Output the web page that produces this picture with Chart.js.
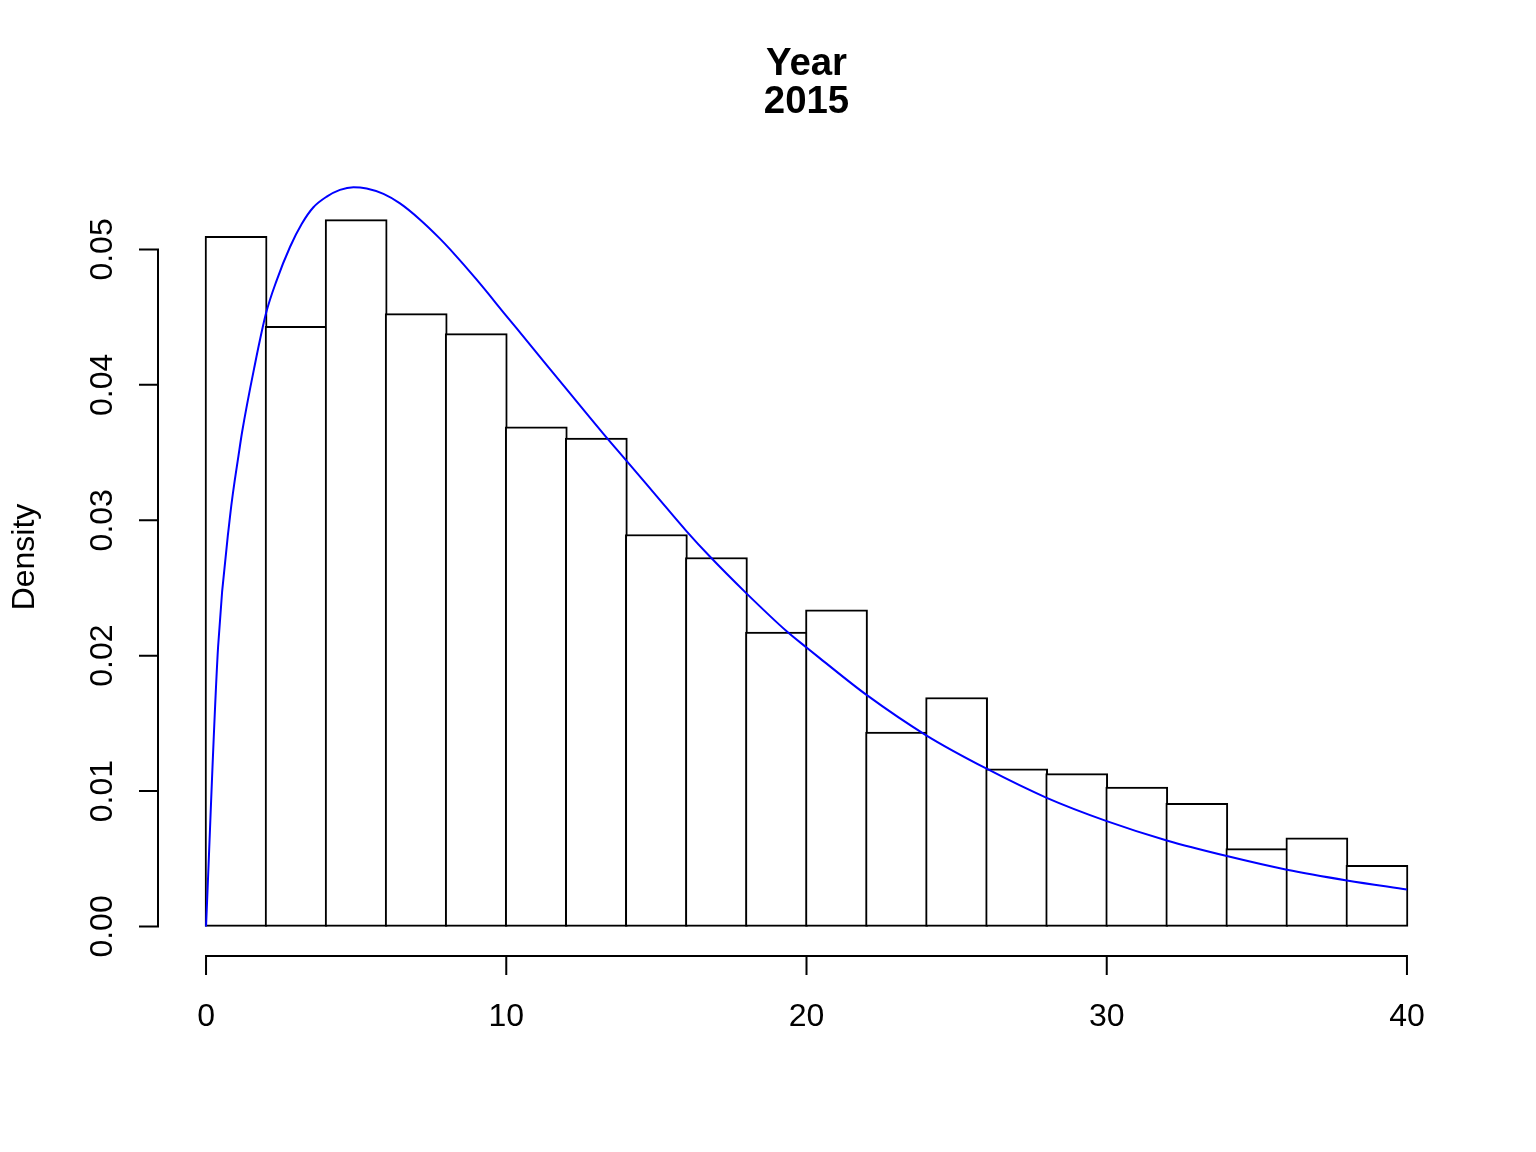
<!DOCTYPE html>
<html>
<head>
<meta charset="utf-8">
<script src="https://cdn.jsdelivr.net/npm/chart.js@4/dist/chart.umd.min.js"></script>
<style>
  html, body { margin: 0; padding: 0; background: #ffffff; }
  #wrap { width: 1536px; height: 1152px; position: relative; }
</style>
</head>
<body>
<div id="wrap"><canvas id="c" width="1536" height="1152"></canvas></div>
<script>
// ---- data ----
const titleLines = ["Year", "2015"];
const yLabel = "Density";
const binLeft = [0, 2, 4, 6, 8, 10, 12, 14, 16, 18, 20, 22, 24, 26, 28, 30, 32, 34, 36, 38];
const binWidth = 2;
const density = [0.05097, 0.04432, 0.05220, 0.04526, 0.04378, 0.03689, 0.03607, 0.02895, 0.02725, 0.02174,
                 0.02339, 0.01435, 0.01691, 0.01164, 0.01129, 0.01029, 0.00910, 0.00575, 0.00654, 0.00452];
const curveX = [0, 0.4, 0.8, 1.11, 1.2, 1.6, 2.0, 2.35, 2.8, 3.19, 3.57, 4.02, 4.46, 4.91, 5.35, 5.91, 6.46, 7.13,
                7.79, 8.13, 9.0, 10.0, 11.0, 12.0, 13.23, 14.0, 15.0, 16.0, 16.79, 18.0, 19.34, 20.0, 20.45,
                22, 24, 26, 28, 30, 32, 34, 36, 38, 40];
const curveY = [0, 0.0206, 0.0303, 0.0352, 0.0365, 0.0412, 0.0453, 0.0477, 0.0502, 0.0519, 0.0531, 0.0539, 0.0544,
                0.0546, 0.0545, 0.0541, 0.0534, 0.0522, 0.0508, 0.0500, 0.0478, 0.0451, 0.0424, 0.0397, 0.0364,
                0.0344, 0.0318, 0.0292, 0.0273, 0.0246, 0.0218, 0.0206, 0.0198,
                0.0171, 0.0141, 0.01165, 0.0095, 0.00778, 0.00635, 0.0052, 0.00419, 0.0034, 0.00273];
const xTicks = [0, 10, 20, 30, 40];
const xTickLabels = ["0", "10", "20", "30", "40"];
const yTicks = [0, 0.01, 0.02, 0.03, 0.04, 0.05];
const yTickLabels = ["0.00", "0.01", "0.02", "0.03", "0.04", "0.05"];
const xLimits = [0, 40];
const yLimits = [0, 0.05457];

// ---- build ----
const FONT = '"Liberation Sans", Arial, Helvetica, sans-serif';
const LINE_W = 2;
const xExt = (xLimits[1] - xLimits[0]) * 0.04;
const yExt = (yLimits[1] - yLimits[0]) * 0.04;

const barData = binLeft.map((l, i) => ({ x: l + binWidth / 2, y: density[i] }));
const lineData = curveX.map((x, i) => ({ x: x, y: curveY[i] }));

const axesPlugin = {
  id: 'rAxes',
  beforeDatasetsDraw(chart) {
    // widen bars so neighbouring outlines share one centred edge line (like R's rect())
    const xs = chart.scales.x;
    const px = Math.abs(xs.getPixelForValue(binWidth) - xs.getPixelForValue(0));
    const meta = chart.getDatasetMeta(1);
    meta.data.forEach(el => { el.width = px + LINE_W; });
  },
  afterDraw(chart) {
    const ctx = chart.ctx;
    const xs = chart.scales.x, ys = chart.scales.y;
    const area = chart.chartArea;
    ctx.save();
    ctx.strokeStyle = '#000';
    ctx.fillStyle = '#000';
    ctx.lineWidth = LINE_W;
    ctx.lineCap = 'butt';
    const tick = 19;
    // x axis
    const xa = area.bottom;
    ctx.beginPath();
    ctx.moveTo(xs.getPixelForValue(xTicks[0]), xa);
    ctx.lineTo(xs.getPixelForValue(xTicks[xTicks.length - 1]), xa);
    xTicks.forEach(v => {
      const p = xs.getPixelForValue(v);
      ctx.moveTo(p, xa - 1);
      ctx.lineTo(p, xa + tick);
    });
    ctx.stroke();
    ctx.font = '32px ' + FONT;
    ctx.textAlign = 'center';
    ctx.textBaseline = 'alphabetic';
    xTicks.forEach((v, i) => {
      ctx.fillText(xTickLabels[i], xs.getPixelForValue(v), 1026);
    });
    // y axis
    const ya = area.left;
    ctx.beginPath();
    ctx.moveTo(ya, ys.getPixelForValue(yTicks[0]));
    ctx.lineTo(ya, ys.getPixelForValue(yTicks[yTicks.length - 1]));
    yTicks.forEach(v => {
      const p = ys.getPixelForValue(v);
      ctx.moveTo(ya + 1, p);
      ctx.lineTo(ya - tick, p);
    });
    ctx.stroke();
    yTicks.forEach((v, i) => {
      ctx.save();
      ctx.translate(112, ys.getPixelForValue(v));
      ctx.rotate(-Math.PI / 2);
      ctx.textAlign = 'center';
      ctx.textBaseline = 'alphabetic';
      ctx.fillText(yTickLabels[i], 0, 0);
      ctx.restore();
    });
    // y label
    ctx.save();
    ctx.translate(34, (area.top + area.bottom) / 2);
    ctx.rotate(-Math.PI / 2);
    ctx.textAlign = 'center';
    ctx.fillText(yLabel, 0, 0);
    ctx.restore();
    // title
    ctx.font = 'bold 38.4px ' + FONT;
    ctx.textAlign = 'center';
    const cx = (area.left + area.right) / 2;
    ctx.fillText(titleLines[0], cx, 75);
    ctx.fillText(titleLines[1], cx, 113);
    ctx.restore();
  }
};

new Chart(document.getElementById('c'), {
  type: 'bar',
  data: {
    datasets: [
      {
        type: 'line',
        data: lineData,
        borderColor: '#0000ff',
        borderWidth: LINE_W,
        pointRadius: 0,
        fill: false,
        cubicInterpolationMode: 'monotone',
        order: 0
      },
      {
        type: 'bar',
        data: barData,
        backgroundColor: '#ffffff',
        borderColor: '#000000',
        borderSkipped: false,
        borderWidth: LINE_W,
        barPercentage: 1,
        categoryPercentage: 1,
        order: 1
      }
    ]
  },
  options: {
    responsive: false,
    animation: false,
    devicePixelRatio: 1,
    layout: { padding: { left: 158, right: 81, top: 158, bottom: 196 } },
    plugins: { legend: { display: false }, tooltip: { enabled: false }, title: { display: false } },
    scales: {
      x: {
        type: 'linear', display: false, offset: false,
        min: xLimits[0] - xExt, max: xLimits[1] + xExt,
        afterBuildTicks: (scale) => { scale.ticks = xTicks.map(v => ({ value: v })); }
      },
      y: { type: 'linear', display: false, min: yLimits[0] - yExt, max: yLimits[1] + yExt }
    }
  },
  plugins: [axesPlugin]
});
</script>
</body>
</html>
